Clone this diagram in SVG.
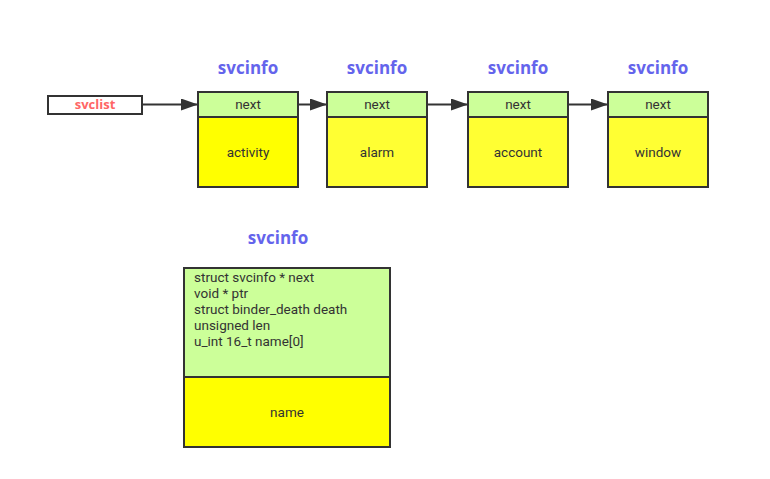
<svg xmlns="http://www.w3.org/2000/svg" width="770" height="479" viewBox="0 0 770 479">
<style>
.title{font-family:"Open Sans","Noto Sans",sans-serif;font-weight:bold;font-size:17px;fill:#6464ec;text-anchor:middle}
.t{font-family:Roboto,"Noto Sans",sans-serif;font-size:13.5px;fill:#333}
.c{text-anchor:middle}
.box{stroke:#333;stroke-width:2}
.g{fill:#ccff99}
.y{fill:#ffff33}
.conn{stroke:#333;stroke-width:2;fill:none}
</style>
<defs>
<marker id="ah" markerWidth="17" markerHeight="12" refX="17" refY="6" orient="auto" markerUnits="userSpaceOnUse">
<path d="M0,0 L17,6 L0,12 z" fill="#333"/>
</marker>
</defs>
<rect width="770" height="479" fill="#fff"/>
<g id="svclist">
<rect x="48" y="96" width="94" height="18" fill="#fff" class="box"/>
<text x="95" y="109" text-anchor="middle" font-family="Open Sans, Noto Sans, sans-serif" font-weight="bold" font-size="13" fill="#ff6666">svclist</text>
</g>
<g id="node-activity">
<text class="title" x="248" y="74">svcinfo</text>
<rect x="198" y="92" width="100" height="25" class="box g"/>
<rect x="198" y="117" width="100" height="70" class="box" fill="#ffff00"/>
<text class="t c" x="248" y="109">next</text>
<text class="t c" x="248" y="157">activity</text>
</g>
<g id="node-alarm">
<text class="title" x="377" y="74">svcinfo</text>
<rect x="327" y="92" width="100" height="25" class="box g"/>
<rect x="327" y="117" width="100" height="70" class="box y"/>
<text class="t c" x="377" y="109">next</text>
<text class="t c" x="377" y="157">alarm</text>
</g>
<g id="node-account">
<text class="title" x="518" y="74">svcinfo</text>
<rect x="468" y="92" width="100" height="25" class="box g"/>
<rect x="468" y="117" width="100" height="70" class="box y"/>
<text class="t c" x="518" y="109">next</text>
<text class="t c" x="518" y="157">account</text>
</g>
<g id="node-window">
<text class="title" x="658" y="74">svcinfo</text>
<rect x="608" y="92" width="100" height="25" class="box g"/>
<rect x="608" y="117" width="100" height="70" class="box y"/>
<text class="t c" x="658" y="109">next</text>
<text class="t c" x="658" y="157">window</text>
</g>
<g id="struct-svcinfo">
<text class="title" x="278" y="244">svcinfo</text>
<rect x="184" y="268" width="206" height="109" class="box g"/>
<rect x="184" y="377" width="206" height="70" class="box" fill="#ffff00"/>
<text class="t" x="194" y="282">struct svcinfo * next</text>
<text class="t" x="194" y="298">void * ptr</text>
<text class="t" x="194" y="314">struct binder_death death</text>
<text class="t" x="194" y="330">unsigned len</text>
<text class="t" x="194" y="346">u_int 16_t name[0]</text>
<text class="t c" x="287" y="417">name</text>
</g>
<g id="connectors">
<line class="conn" x1="142" y1="104.5" x2="198" y2="104.5" marker-end="url(#ah)"/>
<line class="conn" x1="298" y1="104.5" x2="327" y2="104.5" marker-end="url(#ah)"/>
<line class="conn" x1="427" y1="104.5" x2="468" y2="104.5" marker-end="url(#ah)"/>
<line class="conn" x1="568" y1="104.5" x2="608" y2="104.5" marker-end="url(#ah)"/>
</g>
</svg>
